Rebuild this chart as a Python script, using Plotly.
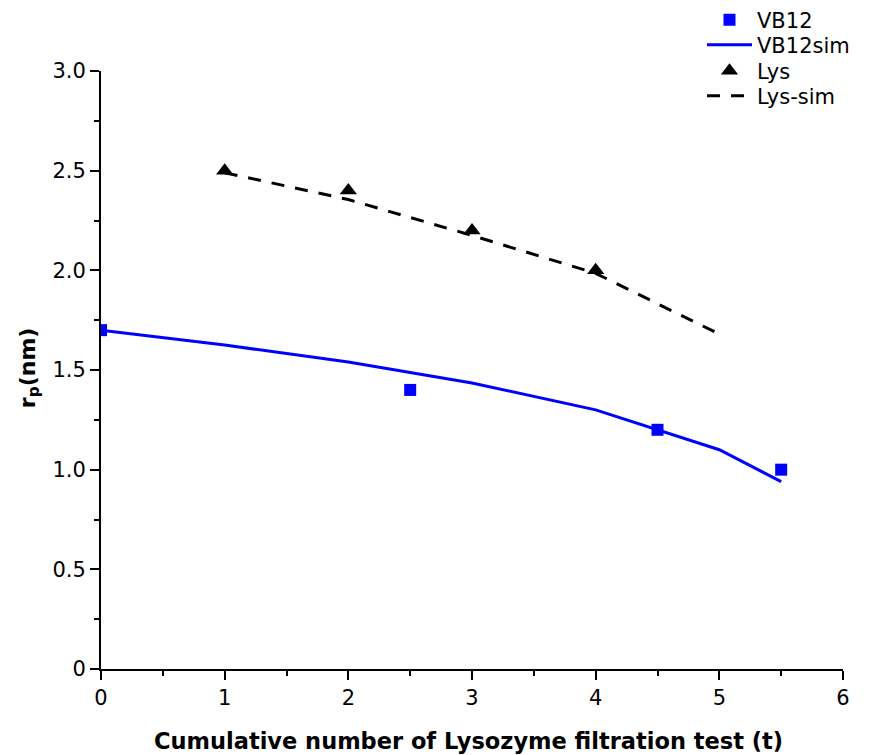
import plotly.graph_objects as go

vb12_t = [0, 2.5, 4.5, 5.5]
vb12_r = [1.70, 1.40, 1.20, 1.00]

vb12sim_t = [0, 1, 2, 3, 4, 5, 5.5]
vb12sim_r = [1.70, 1.625, 1.54, 1.435, 1.30, 1.10, 0.94]

lys_t = [1, 2, 3, 4]
lys_r = [2.50, 2.40, 2.20, 2.00]

lyssim_t = [1, 2, 3, 4, 5]
lyssim_r = [2.49, 2.355, 2.175, 1.985, 1.68]

x_ticks = [0, 1, 2, 3, 4, 5, 6]
y_ticks = [0, 0.5, 1.0, 1.5, 2.0, 2.5, 3.0]
y_ticklabels = ["0", "0.5", "1.0", "1.5", "2.0", "2.5", "3.0"]

FONT = "DejaVu Sans, Liberation Sans, Arial, sans-serif"
W, H = 866, 747  # page body has an 8px margin

fig = go.Figure()
fig.add_trace(go.Scatter(x=vb12_t, y=vb12_r, mode="markers", name="VB12", legend="legend",
                         marker=dict(symbol="square", size=12, color="#0000ff")))
fig.add_trace(go.Scatter(x=vb12sim_t, y=vb12sim_r, mode="lines", name="VB12sim", legend="legend2",
                         line=dict(color="#0000ff", width=3)))
fig.add_trace(go.Scatter(x=lys_t, y=lys_r, mode="markers", name="Lys", legend="legend3",
                         marker=dict(symbol="triangle-up", size=15, color="black")))
fig.add_trace(go.Scatter(x=lyssim_t, y=lyssim_r, mode="lines", name="Lys-sim", legend="legend4",
                         line=dict(color="black", width=3, dash="13px,11px")))

def leg(row_y):
    return dict(xref="container", yref="container", x=694 / W, y=1 - row_y / H,
                xanchor="left", yanchor="middle", bgcolor="rgba(0,0,0,0)",
                font=dict(family=FONT, size=21, color="black"), itemwidth=45)

fig.update_layout(
    width=W, height=H,
    paper_bgcolor="white", plot_bgcolor="white",
    margin=dict(l=93, r=31, t=63, b=86, autoexpand=False),
    font=dict(family=FONT, size=21, color="black"),
    legend=leg(12), legend2=leg(37), legend3=leg(63), legend4=leg(88),
    showlegend=True,
    annotations=[
        dict(text="<b>Cumulative number of Lysozyme filtration test (t)</b>",
             xref="paper", yref="paper", x=0.495, y=0, yshift=-72,
             xanchor="center", yanchor="middle", showarrow=False,
             font=dict(family=FONT, size=22.5, color="black")),
        dict(text="<b>r<sub>p</sub>(nm)</b>",
             xref="paper", yref="paper", x=0, y=0.503, xshift=-72,
             xanchor="center", yanchor="middle", showarrow=False, textangle=-90,
             font=dict(family=FONT, size=22, color="black")),
    ],
)
fig.update_xaxes(
    range=[0, 6], tickvals=x_ticks, showgrid=False, zeroline=False, automargin=False,
    showline=True, linecolor="black", linewidth=2,
    ticks="outside", ticklen=9, tickwidth=2, tickcolor="black",
    minor=dict(ticks="outside", ticklen=5, tickwidth=2, tickcolor="black", dtick=0.5, showgrid=False),
    tickfont=dict(family=FONT, size=21),
)
fig.update_yaxes(
    range=[0, 3], tickvals=y_ticks, ticktext=y_ticklabels, showgrid=False, zeroline=False,
    automargin=False,
    showline=True, linecolor="black", linewidth=2,
    ticks="outside", ticklen=9, tickwidth=2, tickcolor="black",
    minor=dict(ticks="outside", ticklen=5, tickwidth=2, tickcolor="black", dtick=0.25, showgrid=False),
    tickfont=dict(family=FONT, size=21),
)

fig.write_html("out.html")
